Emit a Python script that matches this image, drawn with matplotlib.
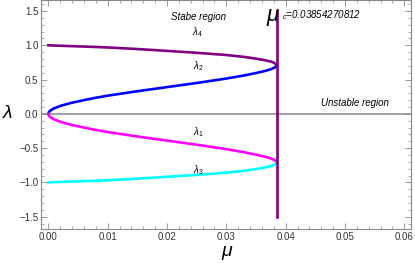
import numpy as np
import matplotlib
matplotlib.use('Agg')
import matplotlib.pyplot as plt
from matplotlib.ticker import MultipleLocator

plt.rcParams['font.family'] = ['Liberation Sans', 'DejaVu Sans']
plt.rcParams['mathtext.fontset'] = 'custom'
plt.rcParams['mathtext.rm'] = 'Liberation Sans'
plt.rcParams['mathtext.it'] = 'Liberation Sans:italic'

mu_c = 0.03854270812

# values
mu = [0.0, 0.00005, 0.0002, 0.0005, 0.001, 0.002, 0.003, 0.004, 0.006, 0.008,
      0.010, 0.015, 0.020, 0.025, 0.030, 0.033, 0.035, 0.0365, 0.0375, 0.038,
      0.0383, 0.03854]
lam2 = [0.0, 0.02, 0.037, 0.058, 0.082, 0.115, 0.14, 0.163, 0.20, 0.235,
        0.265, 0.33, 0.39, 0.45, 0.515, 0.56, 0.595, 0.625, 0.65, 0.67,
        0.685, 0.706]
lam4 = [1.0, 1.0, 0.999, 0.998, 0.996, 0.993, 0.990, 0.987, 0.981, 0.975,
        0.968, 0.945, 0.918, 0.89, 0.858, 0.83, 0.805, 0.782, 0.762, 0.745,
        0.728, 0.706]
lam1 = [-v for v in lam2]
lam3 = [-v for v in lam4]

fig = plt.figure(figsize=(4.15, 2.63), dpi=100)
ax = fig.add_axes([0.099, 0.129, 0.891, 0.871])

ax.axhline(0, color='#999999', lw=1.3, zorder=1)
ax.plot(mu, lam4, color='#800080', lw=1.9)
ax.plot(mu, lam2, color='#0000ff', lw=1.9)
ax.plot(mu, lam1, color='#ff00ff', lw=1.9)
ax.plot(mu, lam3, color='#00ffff', lw=1.9)
ax.plot([mu_c, mu_c], [-1.5, 1.5], color='#800080', lw=1.9)

ax.set_xlim(-0.00123, 0.0611)
ax.set_ylim(-1.68, 1.66)
ax.xaxis.set_major_locator(MultipleLocator(0.01))
ax.xaxis.set_minor_locator(MultipleLocator(0.002))
ax.yaxis.set_major_locator(MultipleLocator(0.5))
ax.yaxis.set_minor_locator(MultipleLocator(0.1))
ax.xaxis.set_major_formatter(plt.FuncFormatter(lambda v, p: f'{v:.2f}'))
ax.yaxis.set_major_formatter(plt.FuncFormatter(lambda v, p: f'{v:.1f}'.replace('-', '\u2212')))
ax.tick_params(which='both', direction='in', top=True, right=True,
               color='#888888', labelsize=7, labelcolor='#333333', pad=2)
ax.tick_params(which='major', length=4, width=0.6)
ax.tick_params(which='minor', length=2, width=0.5)
for s in ax.spines.values():
    s.set_color('#888888')
    s.set_linewidth(0.8)

fig.text(8 / 415, 1 - 114 / 263, r'$\lambda$', fontsize=14, ha='center', va='center')
fig.text(227 / 415, 1 - 253 / 263, r'$\mu$', fontsize=14, ha='center', va='center')

ax.text(0.0253, 1.41, 'Stabe region', fontsize=7, style='italic', ha='center', va='center')
ax.text(0.0516, 0.165, 'Unstable region', fontsize=7, style='italic', ha='center', va='center')
ax.text(0.0252, 1.19, r'$\lambda_4$', fontsize=7, ha='center', va='center')
ax.text(0.0252, 0.70, r'$\lambda_2$', fontsize=7, ha='center', va='center')
ax.text(0.0252, -0.27, r'$\lambda_1$', fontsize=7, ha='center', va='center')
ax.text(0.0252, -0.82, r'$\lambda_3$', fontsize=7, ha='center', va='center')
ax.text(mu_c - 0.0006, 1.40, r'$\mu$', fontsize=16, ha='center', va='center')
ax.text(mu_c + 0.0009, 1.44, r'$_c$=0.03854270812', fontsize=7, style='italic',
        ha='left', va='center')

fig.savefig('out.png', dpi=100)
